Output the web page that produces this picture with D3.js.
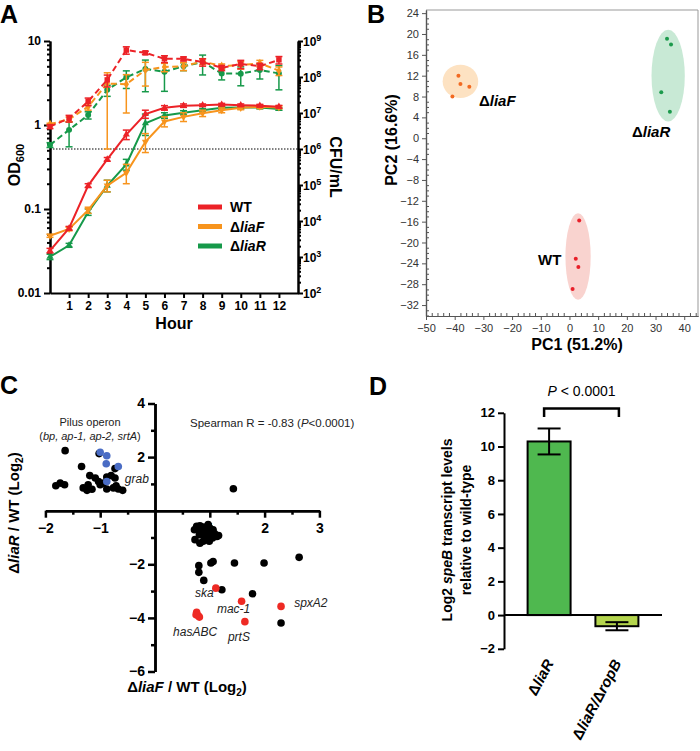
<!DOCTYPE html>
<html><head><meta charset="utf-8">
<script src="https://cdn.jsdelivr.net/npm/d3@7"></script>
<style>
body{margin:0;background:#fff}
svg{font-family:Arial,"Liberation Sans",Helvetica,sans-serif}
</style></head><body>
<svg id="c" width="700" height="751"></svg>
<script>
// ---------- Panel A data ----------
const hours = [0,1,2,3,4,5,6,7,8,9,10,11,12];
const strains = ["WT","\u0394liaF","\u0394liaR"];
const odWT      = [0.032,0.059,0.19,0.39,0.77,1.35,1.6,1.7,1.72,1.75,1.72,1.7,1.65];
const odWTerr   = [0.002,0.003,0.01,0.02,0.1,0.15,0.1,0.08,0.06,0.06,0.06,0.06,0.06];
const odLiaF    = [0.048,0.058,0.097,0.19,0.27,0.63,1.1,1.25,1.38,1.5,1.6,1.65,1.62];
const odLiaFerr = [0.002,0.003,0.008,0.03,0.07,0.16,0.15,0.15,0.12,0.1,0.08,0.08,0.06];
const odLiaR    = [0.027,0.037,0.092,0.19,0.34,1.05,1.3,1.4,1.5,1.6,1.62,1.62,1.55];
const odLiaRerr = [0.002,0.002,0.008,0.03,0.05,0.3,0.1,0.08,0.06,0.05,0.05,0.05,0.05];
const cfuWT      = [4.2e6,7.1e6,2.1e7,8.3e7,5.6e8,4.7e8,3.2e8,3.2e8,2.6e8,1.8e8,2.3e8,2.0e8,3.0e8];
const cfuWTerr   = [5e5,1.5e6,5e6,3e7,1.3e8,5e7,7e7,4e7,6e7,3e7,6e7,4e7,7e7];
const cfuLiaF    = [4.9e6,6.7e6,1.5e7,6.6e7,6.3e7,1.56e8,1.9e8,2.0e8,2.7e8,2.0e8,2.15e8,2.4e8,1.5e8];
const cfuLiaFerr = [3e5,1e6,3e6,6.5e7,5.3e7,1.0e8,5e7,5e7,5e7,3e7,5e7,5e7,4e7];
const cfuLiaR    = [1.3e6,3.4e6,8.8e6,4.4e7,9.8e7,1.67e8,1.4e8,2.0e8,2.6e8,1.26e8,1.24e8,1.56e8,1.26e8];
const cfuLiaRerr = [2e5,2.25e6,2e6,1.5e7,5e7,1.28e8,1.0e8,5e7,1.46e8,4.3e7,6.7e7,6.8e7,8.2e7];
const odTicks = [0.01,0.1,1,10];
const odTickLabels = ["0.01","0.1","1","10"];
const cfuExp = [2,3,4,5,6,7,8,9];
const hourTicks = [1,2,3,4,5,6,7,8,9,10,11,12];
const cfuThreshold = 1e6;

// ---------- Panel B data ----------
const pcWT_1   = [3.4,2.2,3.1,1.1];
const pcWT_2   = [-15.8,-23.1,-24.7,-28.9];
const pcLiaF_1 = [-38.7,-38.0,-34.9,-40.8];
const pcLiaF_2 = [12.0,10.4,9.9,8.0];
const pcLiaR_1 = [34.0,35.4,32.0,35.0];
const pcLiaR_2 = [19.1,18.0,8.8,5.1];
// confidence ellipses: center PC1, center PC2, radius PC1, radius PC2
const ellWT   = [3.0,-22.7,4.4,8.3];
const ellLiaF = [-38.0,10.9,6.2,3.2];
const ellLiaR = [34.4,12.0,5.8,8.8];
const pc1Ticks = [-50,-40,-30,-20,-10,0,10,20,30,40];
const pc2Ticks = [-32,-28,-24,-20,-16,-12,-8,-4,0,4,8,12,16,20,24];

// ---------- Panel C data ----------
const blackX = [-1.64,-1.02,-1.34,-0.73,-1.81,-1.73,-1.65,-1.19,-1.09,-1.03,-1.0,-1.31,-1.22,-1.24,-0.88,-0.8,-0.73,-0.88,-0.76,-0.67,-0.59,-0.71,-0.94,-1.15,
  1.43,
  0.76,0.82,0.89,0.97,1.0,0.79,0.85,0.93,1.02,1.09,1.13,0.72,0.73,0.82,0.88,0.99,1.05,0.95,0.89,0.81,1.06,1.16,0.78,0.92,1.0,
  0.8,0.8,0.89,1.02,1.06,1.45,1.99,2.63,1.22,1.78,2.3];
const blackY = [2.24,2.13,1.65,1.57,0.93,1.03,0.97,1.31,1.22,1.09,0.97,0.85,0.97,0.76,1.26,1.31,1.22,0.81,0.85,0.81,0.76,0.93,1.03,0.8,
  0.82,
  -0.58,-0.56,-0.61,-0.52,-0.65,-0.71,-0.77,-0.75,-0.81,-0.86,-0.96,-0.71,-1.08,-1.21,-1.14,-1.14,-1.02,-0.96,-0.9,-0.9,-0.71,-0.93,-0.62,-0.68,-0.8,
  -2.05,-2.3,-2.6,-1.95,-1.9,-1.95,-1.95,-1.74,-2.95,-3.1,-4.19];
const blueX = [-1.0,-0.88,-0.89,-0.67,-0.88];
const blueY = [2.18,2.05,1.75,1.65,1.09];
const redX = [1.11,1.58,2.3,1.64,0.76,0.79,0.81,0.75];
const redY = [-2.89,-3.38,-3.57,-4.14,-3.79,-3.92,-3.97,-3.88];
const geneLabels = ["ska","mac-1","spxA2","hasABC","prtS","grab"];
const geneLabelX = [0.73,1.13,2.54,0.33,1.33,-0.55];
const geneLabelY = [-3.21,-3.81,-3.58,-4.66,-4.85,1.04];
const cXTicks = [-2,-1,1,2,3];
const cXMinor = [-1.5,-0.5,0.5,1.5,2.5];
const cYTicks = [-6,-4,-2,2,4];
const cYMinor = [-5,-3,-1,1,3];

// ---------- Panel D data ----------
const dCats = ["\u0394liaR","\u0394liaR/\u0394ropB"];
const dVals = [10.3,-0.66];
const dErr  = [0.77,0.24];
const dTicks = [-2,0,2,4,6,8,10,12];

const svg = d3.select('#c');
const C_RED="#ec2227", C_OR="#f7941d", C_GR="#16994a";

function styleAxis(g, w){
  g.selectAll('path.domain').attr('stroke','#000').attr('stroke-width',w);
  g.selectAll('.tick line').attr('stroke','#000').attr('stroke-width',w);
}

// ================= PANEL A =================
const xH = d3.scaleLinear().domain([0,13]).range([50,298]);
const yOD = d3.scaleLog().domain([0.01,10]).range([293,41]);
const yCFU = d3.scaleLog().domain([1e2,1e9]).range([293,41]);
const gA = svg.append('g');

const minorOD=[]; [0.01,0.1,1].forEach(b=>{for(let m=2;m<10;m++) minorOD.push(b*m);});
const minorCFU=[]; [1e2,1e3,1e4,1e5,1e6,1e7,1e8].forEach(b=>{for(let m=2;m<10;m++) minorCFU.push(b*m);});

let ax = gA.append('g').attr('transform','translate(50,0)')
  .call(d3.axisLeft(yOD).tickValues(minorOD).tickSize(3).tickSizeOuter(0).tickFormat(''));
styleAxis(ax,2);
ax = gA.append('g').attr('transform','translate(50,0)')
  .call(d3.axisLeft(yOD).tickValues(odTicks).tickSize(6).tickSizeOuter(0).tickPadding(3)
  .tickFormat((d,i)=>odTickLabels[i]));
styleAxis(ax,2);
ax.selectAll('text').attr('font-size',12).attr('font-weight','bold').attr('fill','#000').attr('font-family','Arial, Liberation Sans, sans-serif');

ax = gA.append('g').attr('transform','translate(298,0)')
  .call(d3.axisRight(yCFU).tickValues(minorCFU).tickSize(3).tickSizeOuter(0).tickFormat(''));
styleAxis(ax,2);
ax = gA.append('g').attr('transform','translate(298,0)')
  .call(d3.axisRight(yCFU).tickValues(cfuExp.map(e=>Math.pow(10,e))).tickSize(5).tickSizeOuter(0).tickFormat(''));
styleAxis(ax,2);
cfuExp.forEach(e=>{
  const t = gA.append('text').attr('x',303).attr('y',yCFU(Math.pow(10,e))+5)
    .attr('font-size',12).attr('font-weight','bold');
  t.append('tspan').text('10');
  t.append('tspan').attr('font-size',9).attr('dy',-5).text(e);
});

ax = gA.append('g').attr('transform','translate(0,293)')
  .call(d3.axisBottom(xH).tickValues(hourTicks).tickSize(5).tickSizeOuter(0).tickPadding(3));
styleAxis(ax,2);
ax.selectAll('text').attr('font-size',12).attr('font-weight','bold').attr('fill','#000').attr('font-family','Arial, Liberation Sans, sans-serif');

// threshold line
gA.append('line').attr('x1',50).attr('x2',298).attr('y1',yCFU(cfuThreshold)).attr('y2',yCFU(cfuThreshold))
  .attr('stroke','#000').attr('stroke-width',1).attr('stroke-dasharray','1.5,1.5');

function drawSeries(vals, errs, yS, color, dashed, sym){
  const g = gA.append('g');
  vals.forEach((v,i)=>{
    const x = xH(hours[i]);
    const lo = Math.max(v-errs[i], yS.domain()[0]);
    const hi = v+errs[i];
    g.append('line').attr('x1',x).attr('x2',x).attr('y1',yS(lo)).attr('y2',yS(hi)).attr('stroke',color).attr('stroke-width',1.5);
    [lo,hi].forEach(b=>g.append('line').attr('x1',x-3.5).attr('x2',x+3.5).attr('y1',yS(b)).attr('y2',yS(b)).attr('stroke',color).attr('stroke-width',1.5));
  });
  g.append('path').datum(vals).attr('fill','none').attr('stroke',color).attr('stroke-width',2)
    .attr('stroke-dasharray', dashed ? '6,3.5' : null)
    .attr('d', d3.line().x((d,i)=>xH(hours[i])).y(d=>yS(d)));
  g.selectAll('path.m').data(vals).enter().append('path')
    .attr('transform',(d,i)=>`translate(${xH(hours[i])},${yS(d)})${sym.rot?' rotate(180)':''}`)
    .attr('d', d3.symbol().type(sym.type).size(sym.size)).attr('fill',color);
}
drawSeries(cfuLiaR, cfuLiaRerr, yCFU, C_GR, true, {type:d3.symbolCircle,size:28});
drawSeries(cfuLiaF, cfuLiaFerr, yCFU, C_OR, true, {type:d3.symbolDiamond,size:24});
drawSeries(cfuWT, cfuWTerr, yCFU, C_RED, true, {type:d3.symbolSquare,size:30});
drawSeries(odLiaR, odLiaRerr, yOD, C_GR, false, {type:d3.symbolTriangle,size:22});
drawSeries(odLiaF, odLiaFerr, yOD, C_OR, false, {type:d3.symbolTriangle,size:22,rot:true});
drawSeries(odWT, odWTerr, yOD, C_RED, false, {type:d3.symbolTriangle,size:22});

// legend
const legCols=[C_RED,C_OR,C_GR];
strains.forEach((s,i)=>{
  const y = 207 + i*19.5;
  gA.append('line').attr('x1',198).attr('x2',222).attr('y1',y).attr('y2',y).attr('stroke',legCols[i]).attr('stroke-width',5);
  const t = gA.append('text').attr('x',230).attr('y',y+5).attr('font-size',14).attr('font-weight','bold');
  if(i===0) t.text(s); else { t.append('tspan').text('\u0394'); t.append('tspan').attr('font-style','italic').text(s.slice(1)); }
});
// axis titles
let tt = gA.append('text').attr('transform','translate(20,165) rotate(-90)').attr('text-anchor','middle').attr('font-size',16).attr('font-weight','bold');
tt.append('tspan').text('OD'); tt.append('tspan').attr('font-size',11).attr('dy',4).text('600');
gA.append('text').attr('transform','translate(330,167) rotate(90)').attr('text-anchor','middle').attr('font-size',16).attr('font-weight','bold').text('CFU/mL');
gA.append('text').attr('x',xH(6.5)).attr('y',329).attr('text-anchor','middle').attr('font-size',16).attr('font-weight','bold').text('Hour');

// ================= PANEL B =================
const gB = svg.append('g');
const xB = d3.scaleLinear().domain([-50,44.8]).range([426,698]);
const yB = d3.scaleLinear().domain([-34.1,24.6]).range([316,10]);
gB.append('line').attr('x1',426).attr('x2',698).attr('y1',10).attr('y2',10).attr('stroke','#999').attr('stroke-width',1);
gB.append('line').attr('x1',698).attr('x2',698).attr('y1',10).attr('y2',316).attr('stroke','#999').attr('stroke-width',1);
const pc1Minor = d3.range(-48,45,2).filter(v=>v%10!==0);
const pc2Minor = d3.range(-34,25,1).filter(v=>v%4!==0);
function styleB(g){ g.selectAll('path.domain').attr('stroke','#555').attr('stroke-width',1.2); g.selectAll('.tick line').attr('stroke','#555').attr('stroke-width',1); }
let bx = gB.append('g').attr('transform','translate(0,316)').call(d3.axisTop(xB).tickValues(pc1Minor).tickSize(3).tickSizeOuter(0).tickFormat('')); styleB(bx);
bx = gB.append('g').attr('transform','translate(0,316)').call(d3.axisBottom(xB).tickValues(pc1Ticks).tickSize(4).tickSizeOuter(0).tickPadding(4)); styleB(bx);
bx.selectAll('text').attr('font-size',11).attr('fill','#333').attr('font-family','Arial, Liberation Sans, sans-serif');
let by = gB.append('g').attr('transform','translate(426,0)').call(d3.axisRight(yB).tickValues(pc2Minor).tickSize(3).tickSizeOuter(0).tickFormat('')); styleB(by);
by = gB.append('g').attr('transform','translate(426,0)').call(d3.axisLeft(yB).tickValues(pc2Ticks).tickSize(4).tickSizeOuter(0).tickPadding(3)); styleB(by);
by.selectAll('text').attr('font-size',11).attr('fill','#333').attr('font-family','Arial, Liberation Sans, sans-serif');

function pcGroup(e, xs, ys, fill, dot){
  gB.append('ellipse').attr('cx',xB(e[0])).attr('cy',yB(e[1]))
    .attr('rx',xB(e[0]+e[2])-xB(e[0])).attr('ry',yB(e[1])-yB(e[1]+e[3])).attr('fill',fill);
  xs.forEach((x,i)=>gB.append('circle').attr('cx',xB(x)).attr('cy',yB(ys[i])).attr('r',2).attr('fill',dot));
}
pcGroup(ellLiaF, pcLiaF_1, pcLiaF_2, '#fde2c2', '#f26a21');
pcGroup(ellLiaR, pcLiaR_1, pcLiaR_2, '#c8e9d5', '#1c9a4c');
pcGroup(ellWT, pcWT_1, pcWT_2, '#f9d3cf', '#e8202a');
function pcLabel(x,y,s,ital){
  const t = gB.append('text').attr('x',x).attr('y',y).attr('font-size',15).attr('font-weight','bold');
  if(ital){ t.append('tspan').text('\u0394'); t.append('tspan').attr('font-style','italic').text(s); } else t.text(s);
}
pcLabel(479,106,'liaF',true);
pcLabel(632,137,'liaR',true);
pcLabel(538,265,'WT',false);
gB.append('text').attr('transform','translate(397,140) rotate(-90)').attr('text-anchor','middle').attr('font-size',16).attr('font-weight','bold').text('PC2 (16.6%)');
gB.append('text').attr('x',577).attr('y',350).attr('text-anchor','middle').attr('font-size',16).attr('font-weight','bold').text('PC1 (51.2%)');

// ================= PANEL C =================
const gC = svg.append('g');
const xC = d3.scaleLinear().domain([-2,3]).range([45.4,319.4]);
const yC = d3.scaleLinear().domain([-6,4]).range([671.5,403.5]);
let cx = gC.append('g').attr('transform',`translate(0,${yC(0)})`).call(d3.axisBottom(xC).tickValues(cXMinor).tickSize(4).tickSizeOuter(0).tickFormat('')); styleAxis(cx,2.5);
cx = gC.append('g').attr('transform',`translate(0,${yC(0)})`).call(d3.axisBottom(xC).tickValues(cXTicks).tickSize(7).tickSizeOuter(0).tickPadding(5).tickFormat(d3.format('d'))); styleAxis(cx,2.5);
cx.selectAll('text').attr('font-size',14).attr('font-weight','bold').attr('fill','#000').attr('font-family','Arial, Liberation Sans, sans-serif');
let cy = gC.append('g').attr('transform',`translate(${xC(0)},0)`).call(d3.axisLeft(yC).tickValues(cYMinor).tickSize(4).tickSizeOuter(0).tickFormat('')); styleAxis(cy,2.5);
cy = gC.append('g').attr('transform',`translate(${xC(0)},0)`).call(d3.axisLeft(yC).tickValues(cYTicks).tickSize(7).tickSizeOuter(0).tickPadding(3).tickFormat(d3.format('d'))); styleAxis(cy,2.5);
cy.selectAll('text').attr('font-size',14).attr('font-weight','bold').attr('fill','#000').attr('font-family','Arial, Liberation Sans, sans-serif');

function dots(xs,ys,col){ xs.forEach((x,i)=>gC.append('circle').attr('cx',xC(x)).attr('cy',yC(ys[i])).attr('r',3.8).attr('fill',col)); }
dots(blackX,blackY,'#000');
dots(blueX,blueY,'#4a6cc4');
dots(redX,redY,'#ee2a24');
geneLabels.forEach((g,i)=>gC.append('text').attr('x',xC(geneLabelX[i])).attr('y',yC(geneLabelY[i]))
  .attr('font-size',12).attr('font-style','italic').attr('fill','#222').text(g));
gC.append('text').attr('x',90).attr('y',426).attr('text-anchor','middle').attr('font-size',11).attr('fill','#222').text('Pilus operon');
let po = gC.append('text').attr('x',90).attr('y',440).attr('text-anchor','middle').attr('font-size',11).attr('fill','#222');
po.append('tspan').text('(');
po.append('tspan').attr('font-style','italic').text('bp, ap-1, ap-2, srtA');
po.append('tspan').text(')');
let sp = gC.append('text').attr('x',190).attr('y',427).attr('font-size',11.5).attr('fill','#222');
sp.append('tspan').text('Spearman R = -0.83 (');
sp.append('tspan').attr('font-style','italic').text('P');
sp.append('tspan').text('<0.0001)');
let cxl = gC.append('text').attr('x',187).attr('y',692).attr('text-anchor','middle').attr('font-size',15).attr('font-weight','bold');
cxl.append('tspan').text('\u0394'); cxl.append('tspan').attr('font-style','italic').text('liaF');
cxl.append('tspan').text(' / WT (Log'); cxl.append('tspan').attr('font-size',10).attr('dy',4).text('2'); cxl.append('tspan').attr('dy',-4).text(')');
let cyl = gC.append('text').attr('transform','translate(19,513) rotate(-90)').attr('text-anchor','middle').attr('font-size',15).attr('font-weight','bold');
cyl.append('tspan').text('\u0394'); cyl.append('tspan').attr('font-style','italic').text('liaR');
cyl.append('tspan').text(' / WT (Log'); cyl.append('tspan').attr('font-size',10).attr('dy',4).text('2'); cyl.append('tspan').attr('dy',-4).text(')');

// ================= PANEL D =================
const gD = svg.append('g');
const yD = d3.scaleLinear().domain([-2,12]).range([648.8,412.8]);
const xD = d3.scaleBand().domain(dCats).range([504,662]).paddingInner(0.366).paddingOuter(0.348);
let dy = gD.append('g').attr('transform','translate(504,0)').call(d3.axisLeft(yD).tickValues(dTicks).tickSize(6).tickSizeOuter(0).tickPadding(3)); styleAxis(dy,2);
dy.selectAll('text').attr('font-size',13).attr('font-weight','bold').attr('fill','#000').attr('font-family','Arial, Liberation Sans, sans-serif');
const dCols = ['#4fb84f','#b4d54d'];
dCats.forEach((c,i)=>{
  const v = dVals[i];
  gD.append('rect').attr('x',xD(c)).attr('width',xD.bandwidth())
    .attr('y',yD(Math.max(0,v))).attr('height',Math.abs(yD(v)-yD(0)))
    .attr('fill',dCols[i]).attr('stroke','#000').attr('stroke-width',2);
  const xm = xD(c)+xD.bandwidth()/2;
  const e = dErr[i];
  gD.append('line').attr('x1',xm).attr('x2',xm).attr('y1',yD(v-e)).attr('y2',yD(v+e)).attr('stroke','#000').attr('stroke-width',2);
  [v-e,v+e].forEach(b=>gD.append('line').attr('x1',xm-11.5).attr('x2',xm+11.5).attr('y1',yD(b)).attr('y2',yD(b)).attr('stroke','#000').attr('stroke-width',2));
  const lab = gD.append('text').attr('transform',`translate(${xm+5},663) rotate(-62)`).attr('text-anchor','end').attr('font-size',15).attr('font-weight','bold');
  c.split(/(\u0394)/).filter(s=>s).forEach(s=>{ if(s==='\u0394') lab.append('tspan').text(s); else lab.append('tspan').attr('font-style','italic').text(s); });
});
gD.append('line').attr('x1',504).attr('x2',662).attr('y1',yD(0)).attr('y2',yD(0)).attr('stroke','#000').attr('stroke-width',2);
// significance bracket
const b1 = xD(dCats[0])+xD.bandwidth()/2 - 5, b2 = xD(dCats[1])+xD.bandwidth()/2 + 2;
gD.append('path').attr('d',`M${b1},${yD(11.75)} V${yD(12.25)} H${b2} V${yD(11.75)}`).attr('fill','none').attr('stroke','#000').attr('stroke-width',2.5);
let pt = gD.append('text').attr('x',(b1+b2)/2).attr('y',396).attr('text-anchor','middle').attr('font-size',14);
pt.append('tspan').attr('font-style','italic').text('P'); pt.append('tspan').text(' < 0.0001');
let dl = gD.append('text').attr('transform','translate(452,530) rotate(-90)').attr('text-anchor','middle').attr('font-size',14).attr('font-weight','bold');
dl.append('tspan').text('Log2 '); dl.append('tspan').attr('font-style','italic').text('speB'); dl.append('tspan').text(' transcript levels');
gD.append('text').attr('transform','translate(471,530) rotate(-90)').attr('text-anchor','middle').attr('font-size',14).attr('font-weight','bold').text('relative to wild-type');

// panel letters
[['A',0,23],['B',367,23],['C',0,394],['D',369,395]].forEach(([l,x,y])=>
  svg.append('text').attr('x',x).attr('y',y).attr('font-size',25).attr('font-weight','bold').text(l));
</script>
</body></html>
